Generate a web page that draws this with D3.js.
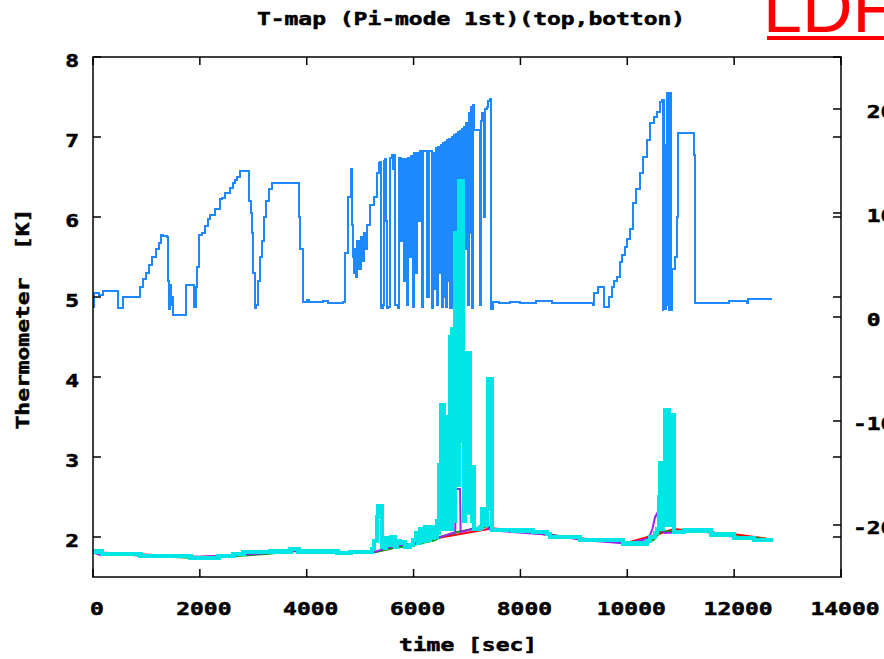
<!DOCTYPE html>
<html>
<head>
<meta charset="utf-8">
<script src="https://cdn.jsdelivr.net/npm/d3@7"></script>
<style>body{margin:0;background:#fff;overflow:hidden}</style>
</head>
<body>
<svg id="chart" width="884" height="659"></svg>
<script>
// thermometer readings, [time sec, temperature K]
var topSensor = [
[0,4.88],[15,5.05],[120,5.03],[190,5.07],[449,5.07],[460,4.86],[540,4.86],[562,5.0],[861,5.0],[880,5.12],[940,5.23],[1000,5.3],[1050,5.4],[1110,5.5],[1180,5.6],[1240,5.68],[1280,5.77],[1310,5.76],[1390,5.75],[1404,5.2],[1420,4.85],[1440,5.15],[1460,4.9],[1480,5.0],[1500,4.78],[1722,4.78],[1740,5.15],[1880,5.15],[1895,4.87],[1925,5.13],[1947,5.38],[1984,5.77],[2040,5.8],[2096,5.89],[2150,5.97],[2190,6.03],[2280,6.1],[2377,6.22],[2420,6.24],[2471,6.3],[2564,6.36],[2620,6.43],[2658,6.46],[2700,6.5],[2751,6.57],[2901,6.57],[2920,6.2],[2960,6.05],[2976,5.8],[3000,5.3],[3032,4.86],[3060,4.9],[3088,5.2],[3120,5.5],[3163,5.7],[3200,6.0],[3238,6.2],[3300,6.35],[3350,6.43],[3837,6.43],[3860,6.0],[3874,5.6],[3930,4.94],
[4000,4.96],[4050,4.94],[4300,4.95],[4400,4.93],[4679,4.94],
[4717,5.55],[4773,6.25],[4829,6.6],[4850,5.9],[4866,5.5],[4880,5.3],[4900,5.6],[4920,5.25],[4950,5.7],[4980,5.35],[5010,5.75],[5040,5.45],[5070,5.8],[5100,5.6],[5128,5.9],[5185,6.15],[5250,6.25],[5316,6.55],[5350,6.67],
[5372,6.69],[5385,4.86],[5420,4.9],[5440,6.70],[5470,6.72],[5480,5.95],[5495,4.86],[5530,4.88],[5560,6.74],[5600,6.78],[5620,6.6],[5640,6.78],[5660,4.9],[5700,4.86],[5720,6.74],[5760,5.7],[5780,6.73],[5820,5.2],[5840,6.72],[5870,4.9],[5890,6.74],[5930,5.5],[5950,6.76],[5990,4.88],[6010,6.8],[6040,5.3],[6060,6.8],[6100,5.95],[6120,6.82],[6160,4.88],[6180,6.83],[6230,6.83],[6260,5.0],[6290,6.82],[6320,6.82],[6340,4.86],[6370,6.8],[6400,5.1],[6420,6.86],[6440,4.9],[6460,6.88],[6490,5.3],[6510,6.9],[6530,4.88],[6550,6.93],[6570,5.0],[6590,6.94],[6610,4.87],[6630,6.96],[6650,5.2],[6670,6.97],[6690,4.86],[6710,7.0],[6730,5.5],[6750,7.02],[6770,4.88],[6790,7.04],[6810,5.0],[6830,7.06],[6850,4.9],[6870,7.08],[6890,5.3],[6910,7.1],[6930,4.87],[6950,7.13],[6970,5.6],[6990,7.18],[7010,4.9],[7030,7.3],[7050,5.8],[7070,7.38],[7090,4.86],[7110,7.4],[7130,7.09],[7220,7.09],[7240,4.9],[7260,7.2],[7290,7.3],[7320,6.0],[7340,7.35],[7380,7.38],[7400,7.45],[7430,7.47],
[7450,4.85],[7480,4.94],[7600,4.92],[7800,4.94],[8000,4.93],[8300,4.95],[8600,4.93],[9000,4.92],[9358,4.9],[9370,5.05],[9452,5.12],[9560,5.12],[9565,4.87],[9640,4.87],[9658,5.0],[9714,5.12],[9760,5.2],[9808,5.25],[9864,5.44],[9910,5.53],[9957,5.63],[10000,5.72],[10051,5.85],[10107,6.17],[10170,6.35],[10238,6.55],[10300,6.75],[10369,6.96],[10425,7.17],[10500,7.25],[10556,7.31],[10612,7.44],[10650,7.46],
[10660,4.84],[10672,7.46],[10684,4.86],[10696,6.8],[10708,4.85],[10720,6.9],[10732,4.9],[10744,7.55],[10760,7.55],[10772,4.84],[10784,7.55],[10800,7.55],[10812,4.84],[10840,5.35],[10900,5.5],[10931,6.0],[10950,7.05],[11230,7.05],[11240,6.78],[11268,4.93],[11600,4.93],[11900,4.95],[12241,4.93],[12250,4.97],[12709,4.97]
];

var bottomCyan = [
[0,1.82],[160,1.82],[170,1.79],[880,1.79],[890,1.76],[1815,1.76],[1825,1.74],[2340,1.74],[2350,1.76],[2620,1.76],[2630,1.79],[2808,1.79],[2820,1.81],[3313,1.81],[3320,1.82],[3687,1.82],[3700,1.85],[3837,1.85],[3850,1.82],[4567,1.82],[4580,1.8],[4810,1.8],[4820,1.81],[5185,1.81],
[5222,1.85],[5260,1.95],[5316,2.25],[5335,2.38],[5390,2.38],[5410,1.88],[5465,1.86],[5485,1.99],[5540,1.99],[5560,1.9],[5580,2.0],[5635,2.0],[5650,1.88],[5690,1.95],[5745,1.93],[5840,1.88],[5930,1.9],[5990,1.96],[6045,2.05],[6080,1.93],[6120,2.1],[6160,1.95],[6215,2.12],[6250,1.97],[6310,2.12],[6350,1.99],[6380,2.12],[6410,2.0],
[6440,2.2],[6460,2.05],[6475,2.9],[6495,2.1],[6515,3.65],[6535,2.1],[6550,3.65],[6570,2.15],[6590,3.5],[6610,2.1],[6630,3.5],[6650,2.15],[6680,4.5],[6700,2.1],[6720,4.6],[6740,2.2],[6775,5.8],[6795,2.65],[6815,5.8],[6835,2.65],[6850,6.45],[6905,6.45],[6925,3.2],[6945,2.2],[6965,3.2],[6985,2.3],[7000,4.3],[7020,2.3],[7040,4.3],[7060,2.3],[7075,2.87],[7095,2.2],[7110,2.87],[7130,2.1],[7245,2.12],[7280,2.35],[7300,2.15],[7330,2.35],[7350,2.15],[7375,2.35],[7395,3.97],[7450,3.97],[7470,2.09],
[7860,2.08],[8235,2.06],[8500,2.04],[8550,2.0],[9115,1.96],[9920,1.92],[10370,1.95],[10425,2.0],[10520,2.05],[10556,2.1],[10590,2.5],[10612,2.92],[10640,2.1],[10665,2.92],[10687,2.92],[10706,3.58],[10730,2.15],[10762,3.58],[10780,3.52],[10800,2.15],[10830,3.52],[10855,3.52],[10870,2.06],[11060,2.08],[11570,2.03],[12000,1.99],[12370,1.96],[12730,1.96]
];

var bottomPurple = [
[0,1.81],[150,1.77],[200,1.8],[880,1.77],[1800,1.75],[2600,1.77],[3300,1.8],[3800,1.83],[4500,1.81],[5200,1.8],[5300,1.82],[5600,1.88],[6000,1.92],[6200,1.95],[6250,2.0],[6350,2.0],[6400,1.98],[6600,2.02],[6780,2.06],[6790,2.6],[6870,2.6],[6880,2.06],[7100,2.1],[7300,2.13],[7340,2.2],[7380,2.36],[7400,2.1],[7500,2.08],[8500,2.03],[9200,1.96],[10000,1.92],[10400,1.98],[10470,2.1],[10520,2.25],[10560,2.3],[10600,2.1],[10700,2.05],[11000,2.06],[11500,2.07],[12000,2.0],[12700,1.96]
];

var bottomGreen = [
[0,1.8],[900,1.77],[1800,1.74],[2600,1.76],[3300,1.79],[3800,1.83],[4500,1.8],[5200,1.8],[5600,1.86],[6000,1.9],[6200,1.93],[6400,1.96],[6500,2.0],[6800,2.06],[7100,2.1],[7300,2.12],[7400,2.14],[7450,2.1],[8000,2.07],[9000,1.99],[10000,1.92],[10400,1.93],[10500,1.97],[10600,2.05],[10650,2.1],[10700,2.07],[11500,2.07],[12000,2.01],[12700,1.97]
];

var bottomRed = [
[0,1.81],[2000,1.75],[4000,1.83],[5200,1.8],[6400,1.98],[7400,2.1],[7480,2.11],[9000,1.99],[10000,1.93],[10600,2.04],[10870,2.1],[11500,2.06],[12040,2.03],[12700,1.97]
];

var xTicks = [0, 2000, 4000, 6000, 8000, 10000, 12000, 14000];
var yTicks = [2, 3, 4, 5, 6, 7, 8];
var y2Ticks = [20, 10, 0, -10, -20];

var svg = d3.select("#chart");
var plotL = 93, plotR = 841, plotT = 57, plotB = 577;

var x = d3.scaleLinear().domain([0, 14000]).range([plotL, plotR]);
var y = d3.scaleLinear().domain([1.5, 8]).range([plotB, plotT]);
var y2 = d3.scaleLinear().domain([-25, 25]).range([plotB, plotT]);

function label(px, py, s, anchor, rot) {
	var g = svg.append("g")
		.attr("transform", "translate(" + px + "," + py + ")" + (rot ? " rotate(-90)" : "") + " scale(1.35,1)");
	g.append("text")
		.attr("text-anchor", anchor)
		.style("white-space", "pre")
		.attr("font-family", "'DejaVu Sans Mono', monospace")
		.attr("font-weight", "bold")
		.attr("font-size", 17)
		.attr("fill", "#000")
		.attr("stroke", "#000")
		.attr("stroke-width", 0.5)
		.text(s);
}

svg.append("defs").append("clipPath").attr("id", "plotclip")
	.append("rect").attr("x", plotL).attr("y", plotT).attr("width", plotR - plotL).attr("height", plotB - plotT);

var stepLine = d3.line()
	.x(function (d) { return x(d[0]); })
	.y(function (d) { return y(d[1]); })
	.curve(d3.curveStepAfter);

var thin = d3.line()
	.x(function (d) { return x(d[0]); })
	.y(function (d) { return y(d[1]); });

var plot = svg.append("g").attr("clip-path", "url(#plotclip)");

plot.append("path").datum(topSensor)
	.attr("d", stepLine)
	.attr("fill", "none").attr("stroke", "#1e88ff").attr("stroke-width", 2)
	.attr("shape-rendering", "crispEdges");

[[bottomRed, "#ff0000"], [bottomGreen, "#00a000"], [bottomPurple, "#a020f0"]].forEach(function (s) {
	plot.append("path").datum(s[0])
		.attr("d", thin)
		.attr("fill", "none").attr("stroke", s[1]).attr("stroke-width", 2);
});

plot.append("path").datum(bottomCyan)
	.attr("d", stepLine)
	.attr("fill", "none").attr("stroke", "#00e5e5").attr("stroke-width", 4.5)
	.attr("shape-rendering", "crispEdges");

// frame
svg.append("rect")
	.attr("x", plotL).attr("y", plotT).attr("width", plotR - plotL).attr("height", plotB - plotT)
	.attr("fill", "none").attr("stroke", "#000").attr("stroke-width", 1.5);

var ticks = svg.append("g").attr("stroke", "#000").attr("stroke-width", 1.5);
xTicks.forEach(function (t) {
	ticks.append("line").attr("x1", x(t)).attr("x2", x(t)).attr("y1", plotB).attr("y2", plotB - 8);
	ticks.append("line").attr("x1", x(t)).attr("x2", x(t)).attr("y1", plotT).attr("y2", plotT + 8);
	label(x(t) + 4, 615, String(t), "middle");
});
yTicks.forEach(function (t) {
	ticks.append("line").attr("x1", plotL).attr("x2", plotL + 8).attr("y1", y(t)).attr("y2", y(t));
	ticks.append("line").attr("x1", plotR).attr("x2", plotR - 8).attr("y1", y(t)).attr("y2", y(t));
	label(79, y(t) + 10, String(t), "end");
});
y2Ticks.forEach(function (t) {
	ticks.append("line").attr("x1", plotR).attr("x2", plotR - 8).attr("y1", y2(t)).attr("y2", y2(t));
	label(853, y2(t) + 9, (t < 0 ? "" : " ") + t, "start");
});

label(471, 25, "T-map (Pi-mode 1st)(top,botton)", "middle");
label(468, 651, "time [sec]", "middle");
label(29, 319, "Thermometer  [K]", "middle", true);

// red marker in the top right corner
svg.append("text")
	.attr("x", 763).attr("y", 32)
	.attr("font-family", "'Liberation Sans', Arial, sans-serif")
	.attr("font-size", 70)
	.attr("fill", "#ff0000")
	.text("LDF");
svg.append("rect")
	.attr("x", 767).attr("y", 36).attr("width", 120).attr("height", 4)
	.attr("fill", "#ff0000");
</script>
</body>
</html>
